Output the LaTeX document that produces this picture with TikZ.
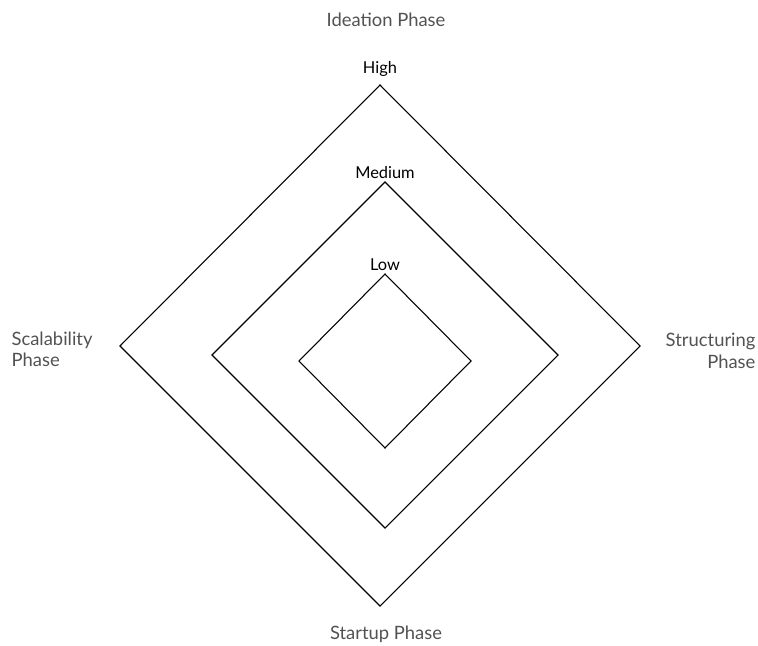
\documentclass[tikz,border=0pt]{standalone}
\usepackage{fontspec}
\setmainfont{Lato}
\usetikzlibrary{positioning}

\begin{document}
\begin{tikzpicture}[x=0.75pt,y=-0.75pt,
		ring/.style={draw, thick, line join=miter},
		phase/.style={font=\fontsize{13.8}{16}\selectfont, text=black!68, inner sep=1pt},
		lvl/.style={font=\fontsize{12.3}{14}\selectfont, text=black, inner sep=1pt}
		]
		\useasboundingbox (0,0) rectangle (758,646);
		% corners of the three rings
		\coordinate (ht) at (380,85);  \coordinate (hr) at (640,346);
		\coordinate (hb) at (380,606); \coordinate (hl) at (120,346);
		\coordinate (mt) at (385,182); \coordinate (mr) at (558,355);
		\coordinate (mb) at (385,528); \coordinate (ml) at (212,355);
		\coordinate (lt) at (385,274); \coordinate (lr) at (471,361);
		\coordinate (lb) at (385,448); \coordinate (ll) at (299,361);
		\draw[ring] (ht)--(hr)--(hb)--(hl)--cycle;
		\draw[ring] (mt)--(mr)--(mb)--(ml)--cycle;
		\draw[ring] (lt)--(lr)--(lb)--(ll)--cycle;
		% level labels
		\node[lvl, above=5.5pt of ht] (high) {High};
		\node[lvl, above=1pt of mt] (medium) {Medium};
		\node[lvl, above=1pt of lt] (low) {Low};
		% phase labels
		\node[phase] (ideation) at (386,20) {Ideation Phase};
		\node[phase, align=left, anchor=west] (scal) at (10,349) {Scalability\\Phase};
		\node[phase, align=right, anchor=east] (struct) at (757,351) {Structuring\\Phase};
		\node[phase] (startup) at (386,634) {Startup Phase};
	\end{tikzpicture}
\end{document}
